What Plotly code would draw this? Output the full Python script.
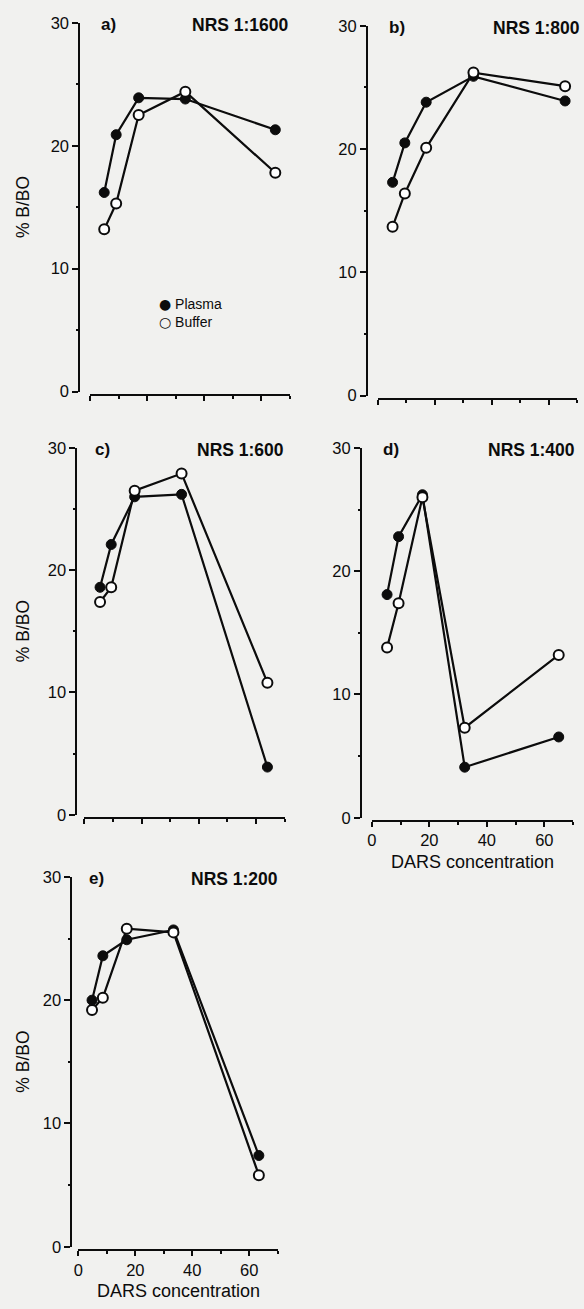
import plotly.graph_objects as go

W, H = 584, 1309

# DARS concentration at which each sample was measured, per panel
dars_a = [4.9, 9.1, 17.0, 33.4, 65.0]
dars_b = [5.2, 9.5, 17.0, 33.6, 65.8]
dars_c = [5.5, 9.4, 17.6, 34.0, 64.0]
dars_d = [5.3, 9.3, 17.6, 32.3, 65.0]
dars_e = [4.8, 8.6, 17.0, 33.4, 63.4]

# % B/BO in plasma (filled) and buffer (open)
plasma_a = [16.2, 20.9, 23.9, 23.8, 21.3]
buffer_a = [13.2, 15.3, 22.5, 24.4, 17.8]
plasma_b = [17.3, 20.5, 23.8, 25.9, 23.9]
buffer_b = [13.7, 16.4, 20.1, 26.2, 25.1]
plasma_c = [18.6, 22.1, 26.0, 26.2, 3.9]
buffer_c = [17.4, 18.6, 26.5, 27.9, 10.8]
plasma_d = [18.1, 22.8, 26.2, 4.1, 6.55]
buffer_d = [13.8, 17.4, 26.0, 7.3, 13.2]
plasma_e = [20.0, 23.6, 24.9, 25.7, 7.4]
buffer_e = [19.2, 20.2, 25.8, 25.5, 5.8]

panel_letters = ["a)", "b)", "c)", "d)", "e)"]
panel_titles = ["NRS 1:1600", "NRS 1:800", "NRS 1:600", "NRS 1:400", "NRS 1:200"]
legend_names = ["Plasma", "Buffer"]
legend_symbols = ["\u25cf", "\u25cb"]

y_ticks = [0, 10, 20, 30]
x_ticks = [0, 20, 40, 60]

series = [
    (dars_a, plasma_a, buffer_a),
    (dars_b, plasma_b, buffer_b),
    (dars_c, plasma_c, buffer_c),
    (dars_d, plasma_d, buffer_d),
    (dars_e, plasma_e, buffer_e),
]

# Pixel geometry of each panel:
# (x of 0, x of 70, y of 0, y of 30, y-axis line x, x-axis line y,
#  right edge of title, x labels?, y title?)
geometry = [
    (86, 287, 388, 14, 75, 391, 288, False, True),
    (376, 577, 392, 17, 365, 395, 582, False, False),
    (80, 282, 817, 445, 72, 820, 283, False, True),
    (370, 573, 820, 445, 359, 823, 577, True, False),
    (74, 275, 1255, 880, 67, 1258, 277, True, True),
]

FONT = "Liberation Sans, Arial, Helvetica, sans-serif"
SYMBOL_FONT = "DejaVu Sans"
INK = "#0c0c0c"
BG = "#f1f1ef"


def px_x(v):
    return v / W


def px_y(v):
    return 1 - v / H


fig = go.Figure()
layout = dict(
    width=W,
    height=H,
    autosize=False,
    margin=dict(l=0, r=0, t=0, b=0),
    paper_bgcolor=BG,
    plot_bgcolor="rgba(0,0,0,0)",
    font=dict(family=FONT, color=INK, size=15),
    showlegend=False,
)
annotations = []

for i, ((xs, pl, bu), geo) in enumerate(zip(series, geometry)):
    x0, x1, y0, y1, yline, xline, title_right, xlabels, ytitle = geo
    n = "" if i == 0 else str(i + 1)
    xa, ya = "x" + n, "y" + n

    layout["xaxis" + n] = dict(
        domain=[px_x(x0), px_x(x1)],
        range=[0, 70],
        anchor="free",
        position=px_y(xline),
        showline=True,
        linecolor=INK,
        linewidth=2,
        showgrid=False,
        zeroline=False,
        tickmode="array",
        tickvals=x_ticks,
        ticktext=[str(t) for t in x_ticks] if xlabels else ["" for _ in x_ticks],
        ticks="outside",
        ticklen=5,
        tickwidth=1.8,
        tickcolor=INK,
        tickfont=dict(size=16.5, family=FONT, color=INK),
        minor=dict(dtick=10, tick0=0, ticks="outside", ticklen=3, tickwidth=1.6, tickcolor=INK),
        fixedrange=True,
    )
    layout["yaxis" + n] = dict(
        domain=[px_y(y0), px_y(y1)],
        range=[0, 30],
        anchor="free",
        position=px_x(yline),
        showline=True,
        linecolor=INK,
        linewidth=2,
        showgrid=False,
        zeroline=False,
        tickmode="array",
        tickvals=y_ticks,
        ticks="outside",
        ticklen=6,
        tickwidth=1.8,
        tickcolor=INK,
        tickfont=dict(size=16.5, family=FONT, color=INK),
        minor=dict(dtick=5, tick0=0, ticks="outside", ticklen=2, tickwidth=1.6, tickcolor=INK),
        fixedrange=True,
    )

    fig.add_trace(go.Scatter(
        x=xs, y=pl, xaxis=xa, yaxis=ya, mode="lines+markers",
        line=dict(color=INK, width=2.2),
        marker=dict(symbol="circle", size=10, color=INK, line=dict(color=INK, width=1)),
        name="Plasma", cliponaxis=False,
    ))
    fig.add_trace(go.Scatter(
        x=xs, y=bu, xaxis=xa, yaxis=ya, mode="lines+markers",
        line=dict(color=INK, width=2.2),
        marker=dict(symbol="circle", size=10, color="white", line=dict(color=INK, width=2)),
        name="Buffer", cliponaxis=False,
    ))

    # panel letter and serum dilution
    annotations.append(dict(
        text="<b>%s</b>" % panel_letters[i], xref="paper", yref="paper",
        x=px_x(x0 + 9), y=px_y(y1 + 2), xanchor="left", yanchor="middle",
        showarrow=False, font=dict(size=17, family=FONT, color=INK),
    ))
    annotations.append(dict(
        text="<b>%s</b>" % panel_titles[i], xref="paper", yref="paper",
        x=px_x(title_right), y=px_y(y1 + 2), xanchor="right", yanchor="middle",
        showarrow=False, font=dict(size=17.5, family=FONT, color=INK),
    ))
    if ytitle:
        annotations.append(dict(
            text="% B/BO", xref="paper", yref="paper",
            x=px_x(18), y=px_y((y0 + y1) / 2), xanchor="center", yanchor="middle",
            textangle=-90, showarrow=False, font=dict(size=17.5, family=FONT, color=INK),
        ))
    if xlabels:
        annotations.append(dict(
            text="DARS concentration", xref="paper", yref="paper",
            x=px_x((x0 + x1) / 2), y=px_y(xline + 42), xanchor="center", yanchor="middle",
            showarrow=False, font=dict(size=18, family=FONT, color=INK),
        ))

# key for the two sample media, inside panel a
for k, (sym, name) in enumerate(zip(legend_symbols, legend_names)):
    yk = 299 + 18 * k
    annotations.append(dict(
        text='<span style="font-family:%s">%s</span> %s' % (SYMBOL_FONT, sym, name),
        xref="paper", yref="paper", x=px_x(153), y=px_y(yk),
        xanchor="left", yanchor="middle", showarrow=False,
        font=dict(size=14, family=FONT, color=INK),
    ))

layout["annotations"] = annotations
fig.update_layout(**layout)
fig.write_html("out.html")
